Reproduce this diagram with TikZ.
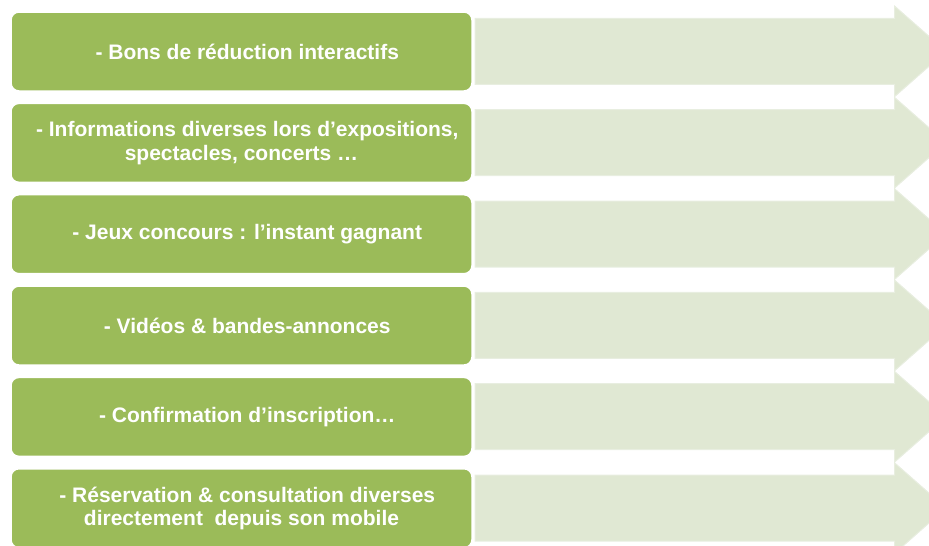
\documentclass[tikz,border=0pt]{standalone}
\usepackage{fontspec}
\setmainfont{Liberation Sans}
\definecolor{boxgreen}{RGB}{155,187,89}
\definecolor{arrowfill}{RGB}{224,232,211}
\definecolor{arrowline}{RGB}{232,238,224}
\begin{document}
\begin{tikzpicture}[x=1pt,y=-1pt,
  itembox/.style={fill=boxgreen, draw=white, line width=1.5pt, rounded corners=8pt,
    minimum width=461pt, minimum height=79pt, inner sep=0pt, text=white, align=center,
    font=\bfseries\fontsize{21}{23.5}\selectfont},
  band/.style={fill=arrowfill, draw=arrowline, line width=1pt}]
\useasboundingbox (0,0) rectangle (929,546);
\clip (0,0) rectangle (929,546);
\foreach \i in {0,...,5} {
  \pgfmathsetmacro\t{12+91.35*\i}
  \path[band] (475,\t+6.3) -- (894.5,\t+6.3) -- (894.5,\t-6) -- (946,\t+39.3)
     -- (894.5,\t+84.7) -- (894.5,\t+72.3) -- (475,\t+72.3) -- cycle;
}
\node[itembox] (b1) at (241.5,51.5) {\hspace*{11.5pt}- Bons de réduction interactifs};
\node[itembox] (b2) at (241.5,142.85) {\hspace*{11.5pt}- Informations diverses lors d’expositions,\\spectacles, concerts …};
\node[itembox] (b3) at (241.5,234.2) {\hspace*{11.5pt}- Jeux concours : l’instant gagnant};
\node[itembox] (b4) at (241.5,325.55) {\hspace*{11.5pt}- Vidéos \& bandes-annonces};
\node[itembox] (b5) at (241.5,416.9) {\hspace*{11.5pt}- Confirmation d’inscription…};
\node[itembox] (b6) at (241.5,508.25) {\hspace*{11.5pt}- Réservation \& consultation diverses\\directement\ \ depuis son mobile};
\end{tikzpicture}
\end{document}
